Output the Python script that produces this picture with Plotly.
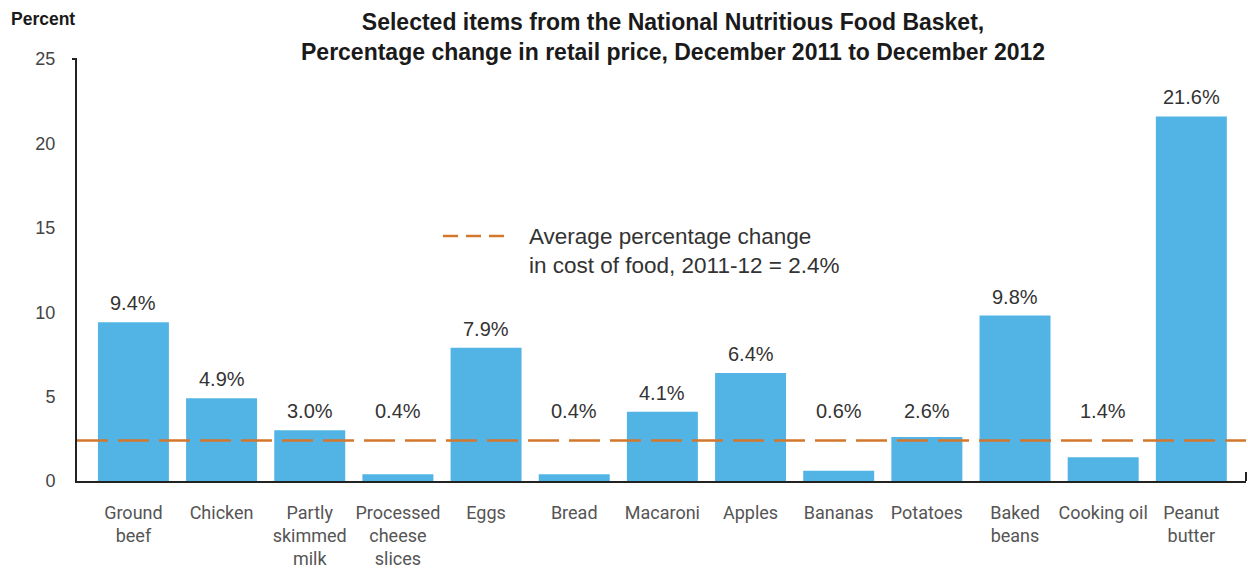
import plotly.graph_objects as go

categories = ["Ground<br>beef", "Chicken", "Partly<br>skimmed<br>milk", "Processed<br>cheese<br>slices",
              "Eggs", "Bread", "Macaroni", "Apples", "Bananas", "Potatoes",
              "Baked<br>beans", "Cooking oil", "Peanut<br>butter"]
pct_change = [9.4, 4.9, 3.0, 0.4, 7.9, 0.4, 4.1, 6.4, 0.6, 2.6, 9.8, 1.4, 21.6]
avg_change = 2.4
y_ticks = [0, 5, 10, 15, 20, 25]
label_floor = 3.0  # short bars get their label at this height

BAR = "#52b4e5"
ORANGE = "#d2772c"
AXIS = "#222222"
FONT = "Liberation Sans"
CAT_FONT = "Roboto"

x_idx = list(range(len(categories)))
x_lo, x_hi = -0.64, len(categories) - 1 + 0.62

fig = go.Figure()
fig.add_trace(go.Bar(
    x=x_idx, y=pct_change, width=0.805,
    marker=dict(color=BAR, line=dict(width=0)),
    hoverinfo="skip", showlegend=False,
))

# average line across the whole plot
fig.add_trace(go.Scatter(
    x=[x_lo, x_hi], y=[avg_change, avg_change], mode="lines",
    line=dict(color=ORANGE, width=2.5, dash="31px,10px"),
    hoverinfo="skip", showlegend=False,
))

# value labels above bars
for xi, v in zip(x_idx, pct_change):
    fig.add_annotation(x=xi, y=max(v, label_floor), text=f"{v:.1f}%", showarrow=False,
                       yanchor="bottom", yshift=6,
                       font=dict(family=FONT, size=20, color="#333333"))

# key for the average line
fig.add_shape(type="line", xref="paper", yref="paper",
              x0=(443 - 77) / 1169, x1=(511 - 77) / 1169,
              y0=(481 - 236) / 422, y1=(481 - 236) / 422,
              line=dict(color=ORANGE, width=2.5, dash="15px,8px"))
fig.add_annotation(xref="paper", yref="paper",
                   x=(527 - 77) / 1169, y=(481 - 251) / 422,
                   xanchor="left", yanchor="middle", align="left", showarrow=False,
                   text=f"Average percentage change<br>in cost of food, 2011-12 = {avg_change}%",
                   font=dict(family=FONT, size=22.5, color="#333333"))

# axis end caps
fig.add_shape(type="line", xref="paper", yref="paper", x0=-5 / 1169, x1=0, y0=1, y1=1,
              line=dict(color=AXIS, width=2))
fig.add_shape(type="line", xref="paper", yref="paper", x0=1, x1=1, y0=0, y1=9 / 422,
              line=dict(color=AXIS, width=2))

# chart title
fig.add_annotation(xref="paper", yref="paper", x=(673 - 77) / 1169, y=1 + 22 / 422,
                   xanchor="center", yanchor="middle", align="center", showarrow=False,
                   text="<b>Selected items from the National Nutritious Food Basket,<br>"
                        "Percentage change in retail price, December 2011 to December 2012</b>",
                   font=dict(family=FONT, size=23, color="#1a1a1a"))

fig.add_annotation(xref="paper", yref="paper", x=-68 / 1169, y=1 + 40 / 422,
                   xanchor="left", yanchor="middle", showarrow=False,
                   text="<b>Percent</b>", font=dict(family=FONT, size=17.5, color="#1a1a1a"))

fig.update_layout(
    width=1248, height=588,
    margin=dict(l=77, r=2, t=59, b=107),
    paper_bgcolor="white", plot_bgcolor="white",
    font=dict(family=FONT),
    xaxis=dict(
        range=[x_lo, x_hi], tickmode="array", tickvals=x_idx, ticktext=categories,
        showline=True, linecolor=AXIS, linewidth=2, ticks="", showgrid=False,
        zeroline=False, ticklabelstandoff=14,
        tickfont=dict(family=CAT_FONT, size=18, color="#555555"),
    ),
    yaxis=dict(
        range=[0, 25], tickmode="array", tickvals=y_ticks,
        showline=True, linecolor=AXIS, linewidth=2, ticks="", showgrid=False,
        zeroline=False, ticklabelstandoff=16,
        tickfont=dict(family=FONT, size=18, color="#444444"),
    ),
)

fig.write_html("out.html")
